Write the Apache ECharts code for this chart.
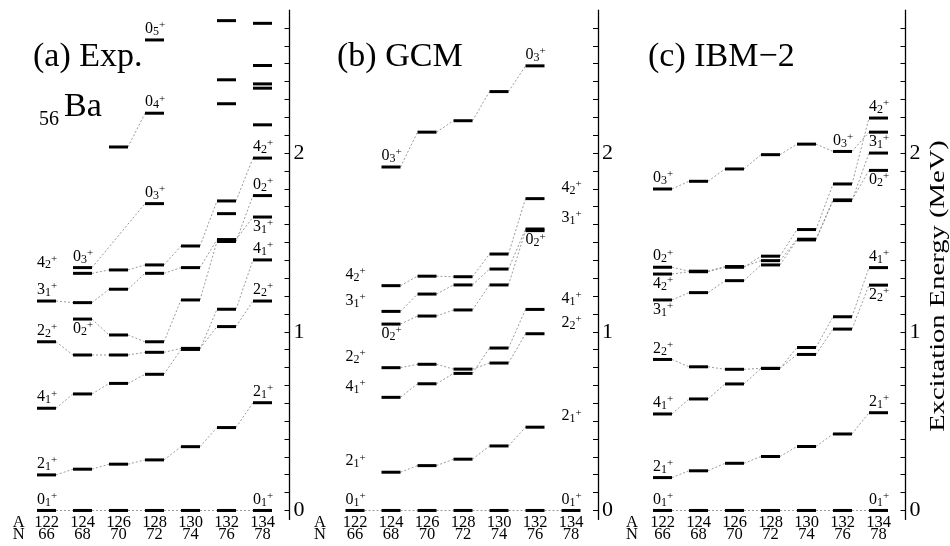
<!DOCTYPE html>
<html><head><meta charset="utf-8">
<script src="https://cdn.jsdelivr.net/npm/echarts@6/dist/echarts.min.js"></script>
<style>html,body{margin:0;padding:0;background:#fff}#c{width:950px;height:546px}</style>
</head><body><div id="c"></div>
<script>
// ---------- data ----------
const A = [122,124,126,128,130,132,134];
const N = [66,68,70,72,74,76,78];
const yTickValues = [0,0.1,0.2,0.3,0.4,0.5,0.6,0.7,0.8,0.9,1,1.1,1.2,1.3,1.4,1.5,1.6,1.7,1.8,1.9,2,2.1,2.2,2.3,2.4,2.5,2.6,2.7];
const yLabelValues = [0,1,2];
const panelTitles = ['(a) Exp.','(b) GCM','(c) IBM\u22122'];
const axisTitle = 'Excitation Energy (MeV)';

// (a) Experiment (MeV), one entry per A
const exp_0_1 = [0,0,0,0,0,0,0];
const exp_2_1 = [0.199,0.231,0.259,0.283,0.357,0.464,0.603];
const exp_4_1 = [0.572,0.652,0.711,0.762,0.901,1.126,1.402];
const exp_2_2 = [0.944,0.870,0.870,0.885,0.907,1.029,1.172];
const exp_0_2 = [null,1.071,0.982,0.944,1.178,1.505,1.762];
const exp_3_1 = [1.172,1.163,1.238,1.327,1.359,1.516,1.642];
const exp_4_2 = [null,1.327,1.346,1.374,1.480,1.732,1.972];
const exp_0_3 = [null,1.359,null,1.717,null,null,null];
const exp_0_4 = [null,null,2.034,2.223,null,null,null];
const exp_0_5 = [null,null,null,2.633,null,null,null];
const exp_other = [[132,1.661],[132,2.276],[132,2.410],[132,2.741],[134,2.158],[134,2.363],[134,2.387],[134,2.490],[134,2.726]];
const exp_labels = [
  [122,0,'0','1','a'],[122,0.199,'2','1','a'],[122,0.572,'4','1','a'],[122,0.944,'2','2','a'],[122,1.172,'3','1','a'],[122,1.327,'4','2','a'],
  [124,1.359,'0','3','a'],[124,1.071,'0','2','b'],
  [128,1.717,'0','3','a'],[128,2.223,'0','4','a'],[128,2.633,'0','5','a'],
  [134,0,'0','1','a'],[134,0.603,'2','1','a'],[134,1.172,'2','2','a'],[134,1.402,'4','1','a'],[134,1.642,'3','1','b'],[134,1.762,'0','2','a'],[134,1.972,'4','2','a']
];

// (b) GCM
const gcm_0_1 = [0,0,0,0,0,0,0];
const gcm_2_1 = [null,0.214,0.251,0.287,0.361,0.466,null];
const gcm_4_1 = [null,0.633,0.709,0.767,0.909,1.125,null];
const gcm_2_2 = [null,0.799,0.818,0.791,0.825,0.989,null];
const gcm_0_2 = [null,1.043,1.088,1.122,1.262,1.566,null];
const gcm_3_1 = [null,1.114,1.211,1.262,1.351,1.575,null];
const gcm_4_2 = [null,1.258,1.311,1.308,1.435,1.745,null];
const gcm_0_3 = [null,1.922,2.117,2.181,2.344,2.488,null];
const gcm_labels = [
  [122,0,'0','1','a'],[122,0.214,'2','1','a'],[122,0.633,'4','1','a'],[122,0.799,'2','2','a'],[122,1.114,'3','1','a'],[122,1.258,'4','2','a'],
  [124,1.043,'0','2','b'],[124,1.922,'0','3','a'],
  [132,1.566,'0','2','b'],[132,2.488,'0','3','a'],
  [134,0,'0','1','a'],[134,0.466,'2','1','a'],[134,0.989,'2','2','a'],[134,1.125,'4','1','a'],[134,1.575,'3','1','a'],[134,1.745,'4','2','a']
];

// (c) IBM-2
const ibm_0_1 = [0,0,0,0,0,0,0];
const ibm_2_1 = [0.184,0.222,0.264,0.302,0.358,0.428,0.547];
const ibm_4_1 = [0.540,0.624,0.708,0.795,0.912,1.084,1.359];
const ibm_2_2 = [0.845,0.804,0.790,0.795,0.873,1.015,1.261];
const ibm_3_1 = [1.178,1.219,1.286,1.374,1.514,1.734,2.000];
const ibm_4_2 = [1.323,1.336,1.361,1.423,1.572,1.827,2.196];
const ibm_0_2 = [1.361,1.339,1.365,1.398,1.518,1.738,1.903];
const ibm_0_3 = [1.799,1.842,1.911,1.991,2.050,2.009,2.117];
const ibm_labels = [
  [122,0,'0','1','a'],[122,0.184,'2','1','a'],[122,0.540,'4','1','a'],[122,0.845,'2','2','a'],[122,1.178,'3','1','b'],[122,1.323,'4','2','b'],[122,1.361,'0','2','a'],[122,1.799,'0','3','a'],
  [132,2.009,'0','3','a'],
  [134,0,'0','1','a'],[134,0.547,'2','1','a'],[134,1.261,'2','2','b'],[134,1.359,'4','1','a'],[134,1.903,'0','2','b'],[134,2.000,'3','1','a'],[134,2.196,'4','2','a']
];

// ---------- layout / style ----------
const SERIF = "'Liberation Serif','Times New Roman',serif";
const BAR_W = 19, BAR_H = 3;
const panels = [
  {seqs:[exp_0_1,exp_2_1,exp_4_1,exp_2_2,exp_0_2,exp_3_1,exp_4_2,exp_0_3,exp_0_4,exp_0_5], other:exp_other, labels:exp_labels, left:1.5, rowAt:120.45},
  {seqs:[gcm_0_1,gcm_2_1,gcm_4_1,gcm_2_2,gcm_0_2,gcm_3_1,gcm_4_2,gcm_0_3], other:[], labels:gcm_labels, left:310, rowAt:120.05},
  {seqs:[ibm_0_1,ibm_2_1,ibm_4_1,ibm_2_2,ibm_3_1,ibm_4_2,ibm_0_2,ibm_0_3], other:[], labels:ibm_labels, left:617.5, rowAt:120.3}
];
const RICH = {
  m:{fontSize:16, fontFamily:SERIF, lineHeight:18, color:'#000'},
  s:{fontSize:12, fontFamily:SERIF, lineHeight:11, verticalAlign:'bottom', color:'#000'},
  p:{fontSize:11, fontFamily:SERIF, lineHeight:10, verticalAlign:'top', color:'#000'}
};

const grids=[], xAxes=[], yAxes=[], series=[];
panels.forEach((pn, k) => {
  grids.push({left:pn.left, top:10.1, width:288, height:509.3});
  xAxes.push({type:'value', gridIndex:k, min:119.5, max:135.5, position:'bottom',
    axisLine:{show:false}, axisTick:{show:false}, splitLine:{show:false},
    axisLabel:{customValues:[pn.rowAt].concat(A), margin:-3, fontFamily:SERIF, fontSize:16.5, lineHeight:12, color:'#000',
      hideOverlap:false, showMinLabel:true, showMaxLabel:true,
      formatter:v => { if (v < 121) return 'A\nN'; const i = A.indexOf(Math.round(v)); return A[i] + '\n' + N[i]; }}});
  yAxes.push({type:'value', gridIndex:k, min:-0.05, max:2.8, position:'right',
    axisLine:{show:true, lineStyle:{color:'#000', width:1.3}},
    axisTick:{show:true, inside:true, length:5, customValues:yTickValues, lineStyle:{color:'#000', width:1}},
    axisLabel:{customValues:yLabelValues, margin:4, fontFamily:SERIF, fontSize:22, color:'#000'},
    splitLine:{show:false}});

  const bars = [], links = [];
  pn.seqs.forEach(seq => {
    let prev = -1;
    seq.forEach((v, i) => {
      if (v === null) return;
      bars.push([A[i], v]);
      if (prev >= 0) links.push([A[prev], seq[prev], A[i], v]);
      prev = i;
    });
  });
  pn.other.forEach(d => bars.push([d[0], d[1]]));

  series.push({type:'custom', xAxisIndex:k, yAxisIndex:k, z:1, silent:true, data:links,
    encode:{x:[0,2], y:[1,3]},
    renderItem:(params, api) => {
      const a = api.coord([api.value(0), api.value(1)]);
      const b = api.coord([api.value(2), api.value(3)]);
      return {type:'line', shape:{x1:a[0]+BAR_W/2, y1:a[1], x2:b[0]-BAR_W/2, y2:b[1]},
        style:{stroke:'#808080', lineWidth:0.8, lineDash:[2,2]}};
    }});
  series.push({type:'custom', xAxisIndex:k, yAxisIndex:k, z:2, silent:true, data:bars,
    renderItem:(params, api) => {
      const p = api.coord([api.value(0), api.value(1)]);
      return {type:'rect', shape:{x:p[0]-BAR_W/2, y:p[1]-BAR_H/2, width:BAR_W, height:BAR_H}, style:{fill:'#000'}};
    }});
  const lab = pn.labels;
  series.push({type:'custom', xAxisIndex:k, yAxisIndex:k, z:3, silent:true, data:lab.map(d => [d[0], d[1]]),
    renderItem:(params, api) => {
      const d = lab[params.dataIndex];
      const p = api.coord([d[0], d[1]]);
      const below = d[4] === 'b';
      return {type:'text', style:{text:'{m|' + d[2] + '}{s|' + d[3] + '}{p|+}', rich:RICH,
        x:p[0]-BAR_W/2, y: below ? p[1]+0.5 : p[1]-2, align:'left', verticalAlign: below ? 'top' : 'bottom', fill:'#000'}};
    }});
});

const chart = echarts.init(document.getElementById('c'), null, {renderer:'canvas'});
chart.setOption({
  animation:false,
  backgroundColor:'#fff',
  grid:grids, xAxis:xAxes, yAxis:yAxes, series:series,
  graphic:[
    {type:'text', left:33, top:40, style:{text:panelTitles[0], font:'34px ' + SERIF, fill:'#000'}},
    {type:'text', left:39, top:110, style:{text:'56', font:'20px ' + SERIF, fill:'#000'}},
    {type:'text', left:64, top:90, style:{text:'Ba', font:'34px ' + SERIF, fill:'#000'}},
    {type:'text', left:337, top:40, style:{text:panelTitles[1], font:'34px ' + SERIF, fill:'#000'}},
    {type:'text', left:648, top:40, style:{text:panelTitles[2], font:'34px ' + SERIF, fill:'#000'}},
    {type:'text', x:938, y:286, rotation:Math.PI/2, scaleX:1.3, style:{text:axisTitle, font:'22px ' + SERIF, fill:'#000', align:'center', verticalAlign:'middle'}}
  ]
});
</script></body></html>
